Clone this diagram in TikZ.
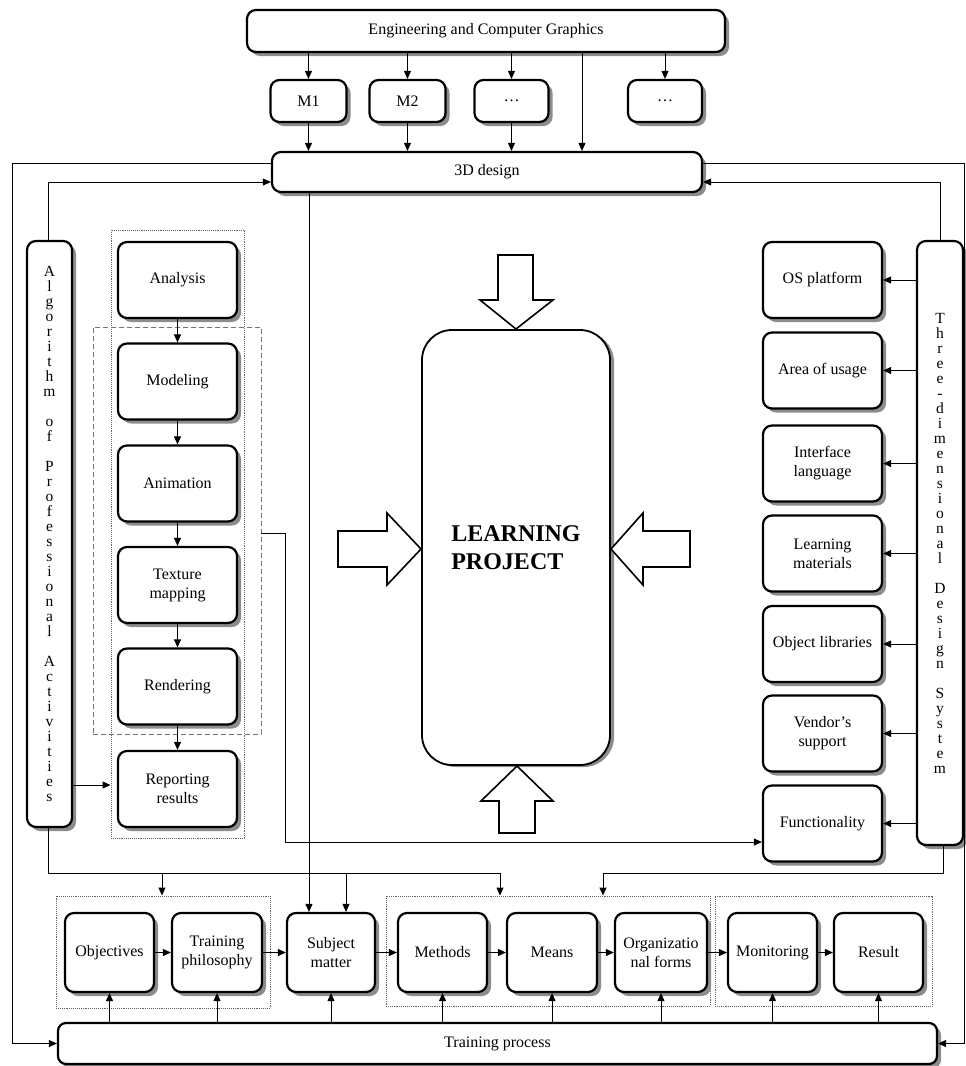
\documentclass[tikz,border=0pt]{standalone}
\usepackage{fontspec}
\setmainfont{Liberation Serif}
\usetikzlibrary{arrows.meta,shadows}
\begin{document}
\begin{tikzpicture}[x=1pt,y=-1pt,
  box/.style={draw, line width=2.2pt, rounded corners=9pt, fill=white,
    drop shadow={shadow xshift=4pt, shadow yshift=-4pt, fill=black!45, opacity=1},
    align=center, font=\fontsize{16}{19}\selectfont, inner sep=1pt},
  vbox/.style={box, font=\fontsize{15.5}{15}\selectfont, minimum width=45},
  lpbox/.style={draw, line width=1.8pt, rounded corners=30pt, fill=white,
    drop shadow={shadow xshift=4pt, shadow yshift=-2pt, fill=black!45, opacity=1},
    align=left, font=\bfseries\fontsize{24}{28}\selectfont},
  arr/.style={-{Triangle[length=8pt,width=7pt]}, line width=0.9pt},
  ln/.style={line width=0.9pt},
  grpdot/.style={draw=black!60, densely dotted, line width=0.9pt},
  grpdash/.style={draw=black!55, dash pattern=on 5pt off 3pt, line width=0.9pt},
  blk/.style={draw, line width=1.6pt, fill=white, line join=miter}
]
\useasboundingbox (0,0) rectangle (966,1066);

% groups
\node[grpdot, minimum width=133, minimum height=608] (grpA) at (177.5,534) {};
\node[grpdash, minimum width=168, minimum height=407] (grpB) at (177,530.5) {};
\node[grpdot, minimum width=214, minimum height=112] (g1) at (163,952) {};
\node[grpdot, minimum width=324, minimum height=110] (g2) at (548,951) {};
\node[grpdot, minimum width=217, minimum height=110] (g3) at (823.5,951) {};

% top
\node[box, minimum width=478, minimum height=42] (ecg) at (486,31) {Engineering and Computer Graphics};
\node[box, minimum width=76, minimum height=42] (m1) at (308.5,101) {M1};
\node[box, minimum width=76, minimum height=42] (m2) at (407.5,101) {M2};
\node[box, minimum width=74, minimum height=42] (m3) at (511.5,101) {\dots};
\node[box, minimum width=74, minimum height=42] (m4) at (665,101) {\dots};
\node[box, minimum width=430, minimum height=40] (d3) at (487,172) {3D design};

% vertical boxes
\node[vbox, minimum height=586] (alg) at (49.5,534) {A\\l\\g\\o\\r\\i\\t\\h\\m\\~\\o\\f\\~\\P\\r\\o\\f\\e\\s\\s\\i\\o\\n\\a\\l\\~\\A\\c\\t\\i\\v\\i\\t\\i\\e\\s};
\node[vbox, minimum width=46, minimum height=604] (tds) at (940,543) {T\\h\\r\\e\\e\\-\\d\\i\\m\\e\\n\\s\\i\\o\\n\\a\\l\\~\\D\\e\\s\\i\\g\\n\\~\\S\\y\\s\\t\\e\\m};

% left column
\node[box, minimum width=119, minimum height=76] (ana) at (177.5,280) {Analysis};
\node[box, minimum width=119, minimum height=76] (mod) at (177.5,381.5) {Modeling};
\node[box, minimum width=119, minimum height=76] (ani) at (177.5,483.5) {Animation};
\node[box, minimum width=119, minimum height=76] (tex) at (177.5,585) {Texture\\mapping};
\node[box, minimum width=119, minimum height=76] (ren) at (177.5,686.5) {Rendering};
\node[box, minimum width=119, minimum height=76] (rep) at (177.5,789) {Reporting\\results};

% right column
\node[box, minimum width=119, minimum height=76] (os) at (822.5,280) {OS platform};
\node[box, minimum width=119, minimum height=76] (area) at (822.5,370.5) {Area of usage};
\node[box, minimum width=119, minimum height=76] (intf) at (822.5,463.5) {Interface\\language};
\node[box, minimum width=119, minimum height=76] (learn) at (822.5,553.5) {Learning\\materials};
\node[box, minimum width=119, minimum height=76] (objl) at (822.5,644) {Object libraries};
\node[box, minimum width=119, minimum height=76] (vend) at (822.5,733.5) {Vendor’s\\support};
\node[box, minimum width=119, minimum height=76] (func) at (822.5,823.5) {Functionality};

% bottom row
\node[box, minimum width=89, minimum height=79] (objv) at (109.5,952.5) {Objectives};
\node[box, minimum width=90, minimum height=79] (tph) at (217,952.5) {Training\\philosophy};
\node[box, minimum width=88, minimum height=79] (subj) at (331,952.5) {Subject\\matter};
\node[box, minimum width=89, minimum height=79] (meth) at (442.5,952.5) {Methods};
\node[box, minimum width=90, minimum height=79] (mean) at (552,952.5) {Means};
\node[box, minimum width=92, minimum height=79] (org) at (661,952.5) {Organizatio\\nal forms};
\node[box, minimum width=89, minimum height=79] (mon) at (772.5,952.5) {Monitoring};
\node[box, minimum width=89, minimum height=79] (res) at (878.5,952.5) {Result};
\node[box, minimum width=879, minimum height=41, rounded corners=8pt] (tp) at (497.5,1043.5) {Training process};

% center
\node[lpbox, minimum width=188, minimum height=435] (lp) at (516,547.5) {LEARNING\\PROJECT};
\draw[blk] (498,255) -- (533,255) -- (533,300) -- (553,300) -- (516,329) -- (480,300) -- (498,300) -- cycle;
\draw[blk] (499,833) -- (535,833) -- (535,801) -- (553,801) -- (517,766) -- (481,801) -- (499,801) -- cycle;
\draw[blk] (338,531) -- (387,531) -- (387,513) -- (421,549) -- (387,585) -- (387,567) -- (338,567) -- cycle;
\draw[blk] (690,531) -- (643,531) -- (643,513) -- (611,549) -- (643,585) -- (643,567) -- (690,567) -- cycle;

% coordinates
\coordinate (xd) at (582,0);
\coordinate (ll) at (12,1043.5);
\coordinate (rr) at (964,1043.5);
\coordinate (ya) at (0,785);
\coordinate (yb) at (0,533);
\coordinate (xb) at (285,0);
\coordinate (fy) at (0,842);
\coordinate (bl) at (500,873);
\coordinate (x162) at (162,873);
\coordinate (x346) at (346,873);
\coordinate (x309) at (309,0);
\coordinate (br) at (603,873);
\coordinate (x943) at (943,0);
\coordinate (x48) at (48,0);

% top connectors
\foreach \m in {m1,m2,m3,m4} \draw[arr] (ecg.south -| \m) -- (\m.north);
\foreach \m in {m1,m2,m3} \draw[arr] (\m.south) -- (\m.south |- d3.north);
\draw[arr] (ecg.south -| xd) -- (d3.north -| xd);

% outer loops
\draw[arr,ln] ([yshift=9pt]d3.west) -| (ll) -- (tp.west);
\draw[arr,ln] ([yshift=9pt]d3.east) -| (rr) -- (tp.east);
\draw[arr] (alg.north -| x48) |- ([yshift=-10pt]d3.west);
\draw[arr] (tds.north) |- ([yshift=-10pt]d3.east);

% left column connectors
\draw[arr] (ana) -- (mod);
\draw[arr] (mod) -- (ani);
\draw[arr] (ani) -- (tex);
\draw[arr] (tex) -- (ren);
\draw[arr] (ren) -- (rep);
\draw[arr] (alg.east |- ya) -- (grpA.west |- ya);
\draw[arr] (grpB.east |- yb) -| (xb |- fy) -- (func.west |- fy);

% right column connectors
\foreach \b in {os,area,intf,learn,objl,vend,func} \draw[arr] (tds.west |- \b) -- (\b.east);

% buses
\draw[ln] (alg.south -| x48) |- (bl);
\draw[arr] (bl) -- (g2.north -| bl);
\draw[arr] (x162) -- (g1.north -| x162);
\draw[arr] (x346) -- (subj.north -| x346);
\draw[arr] (d3.south -| x309) -- (subj.north -| x309);
\draw[ln] (tds.south -| x943) |- (br);
\draw[arr] (br) -- (g2.north -| br);

% bottom row connectors
\draw[arr] (objv) -- (tph);
\draw[arr] (tph) -- (subj);
\draw[arr] (subj) -- (meth);
\draw[arr] (meth) -- (mean);
\draw[arr] (mean) -- (org);
\draw[arr] (org) -- (mon);
\draw[arr] (mon) -- (res);
\foreach \b in {objv,tph,subj,meth,mean,org,mon,res} \draw[arr] (tp.north -| \b) -- (\b.south);
\end{tikzpicture}
\end{document}
